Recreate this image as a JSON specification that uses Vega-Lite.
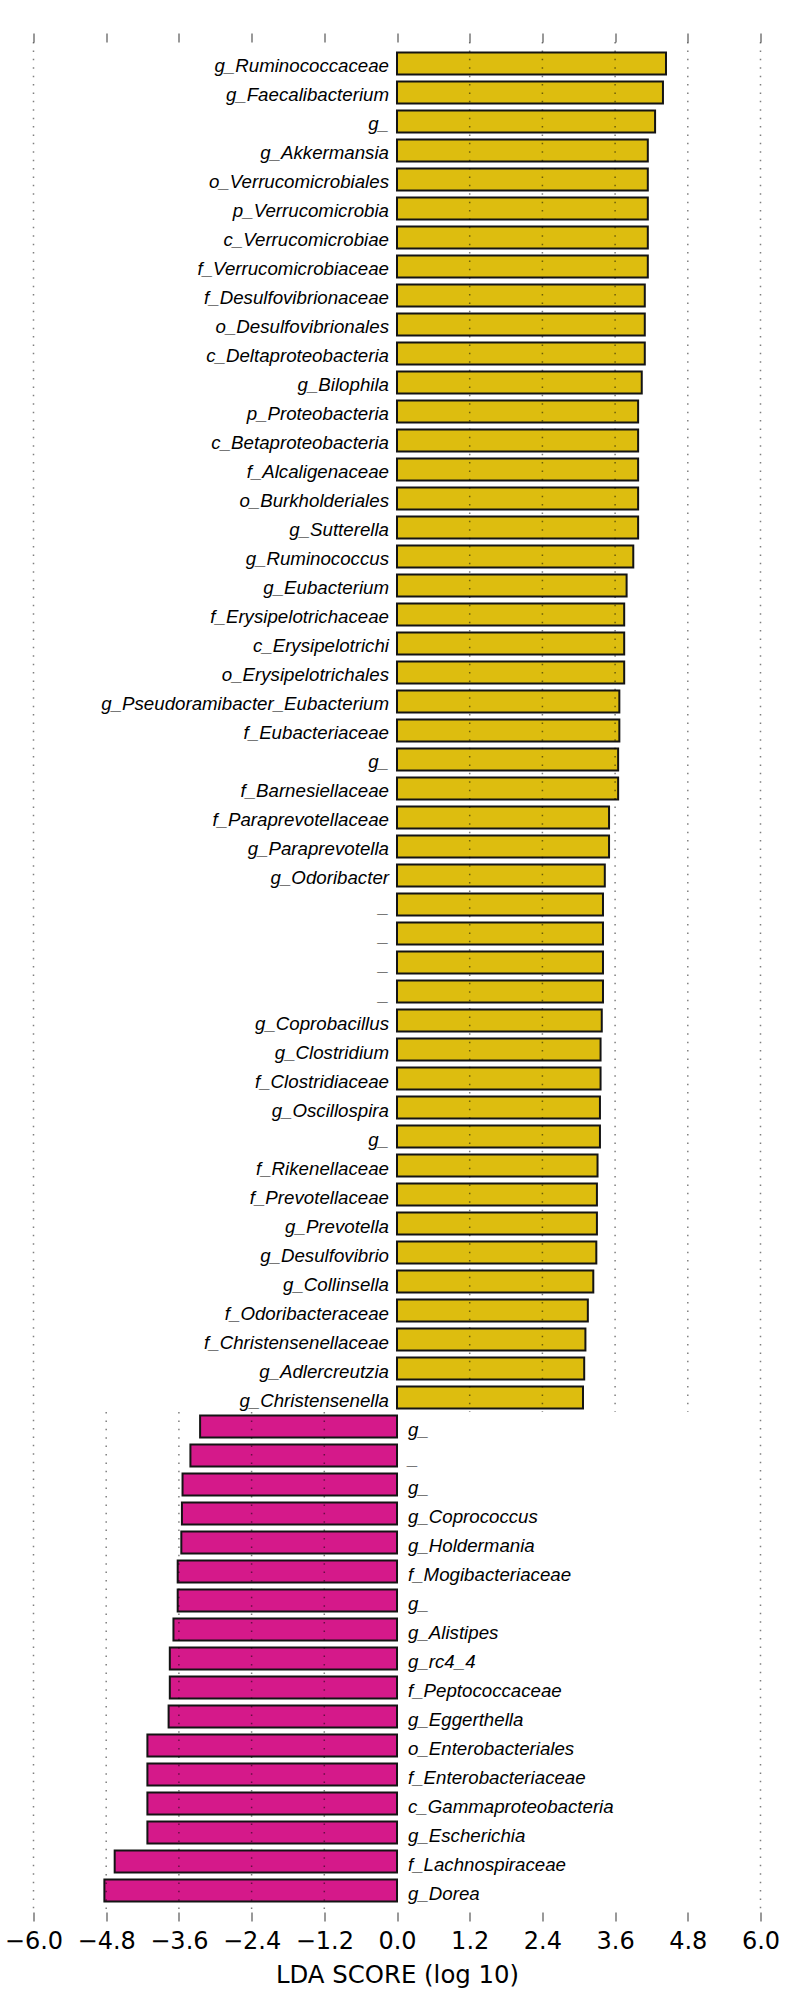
{
  "$schema": "https://vega.github.io/schema/vega-lite/v6.json",
  "width": 727,
  "height": 1888,
  "autosize": {"type": "none"},
  "padding": {"left": 33.5, "top": 33, "right": 33.5, "bottom": 68},
  "background": "white",
  "config": {"view": {"stroke": null}},
  "datasets": {
    "lda": [
      {"id": "01", "name": "g_Ruminococcaceae", "lda": 4.44},
      {"id": "02", "name": "g_Faecalibacterium", "lda": 4.39},
      {"id": "03", "name": "g_", "lda": 4.26},
      {"id": "04", "name": "g_Akkermansia", "lda": 4.14},
      {"id": "05", "name": "o_Verrucomicrobiales", "lda": 4.14},
      {"id": "06", "name": "p_Verrucomicrobia", "lda": 4.14},
      {"id": "07", "name": "c_Verrucomicrobiae", "lda": 4.14},
      {"id": "08", "name": "f_Verrucomicrobiaceae", "lda": 4.14},
      {"id": "09", "name": "f_Desulfovibrionaceae", "lda": 4.09},
      {"id": "10", "name": "o_Desulfovibrionales", "lda": 4.09},
      {"id": "11", "name": "c_Deltaproteobacteria", "lda": 4.09},
      {"id": "12", "name": "g_Bilophila", "lda": 4.04},
      {"id": "13", "name": "p_Proteobacteria", "lda": 3.98},
      {"id": "14", "name": "c_Betaproteobacteria", "lda": 3.98},
      {"id": "15", "name": "f_Alcaligenaceae", "lda": 3.98},
      {"id": "16", "name": "o_Burkholderiales", "lda": 3.98},
      {"id": "17", "name": "g_Sutterella", "lda": 3.98},
      {"id": "18", "name": "g_Ruminococcus", "lda": 3.90},
      {"id": "19", "name": "g_Eubacterium", "lda": 3.79},
      {"id": "20", "name": "f_Erysipelotrichaceae", "lda": 3.75},
      {"id": "21", "name": "c_Erysipelotrichi", "lda": 3.75},
      {"id": "22", "name": "o_Erysipelotrichales", "lda": 3.75},
      {"id": "23", "name": "g_Pseudoramibacter_Eubacterium", "lda": 3.67},
      {"id": "24", "name": "f_Eubacteriaceae", "lda": 3.67},
      {"id": "25", "name": "g_", "lda": 3.65},
      {"id": "26", "name": "f_Barnesiellaceae", "lda": 3.65},
      {"id": "27", "name": "f_Paraprevotellaceae", "lda": 3.50},
      {"id": "28", "name": "g_Paraprevotella", "lda": 3.50},
      {"id": "29", "name": "g_Odoribacter", "lda": 3.43},
      {"id": "30", "name": "_", "lda": 3.40},
      {"id": "31", "name": "_", "lda": 3.40},
      {"id": "32", "name": "_", "lda": 3.40},
      {"id": "33", "name": "_", "lda": 3.40},
      {"id": "34", "name": "g_Coprobacillus", "lda": 3.38},
      {"id": "35", "name": "g_Clostridium", "lda": 3.36},
      {"id": "36", "name": "f_Clostridiaceae", "lda": 3.36},
      {"id": "37", "name": "g_Oscillospira", "lda": 3.35},
      {"id": "38", "name": "g_", "lda": 3.35},
      {"id": "39", "name": "f_Rikenellaceae", "lda": 3.31},
      {"id": "40", "name": "f_Prevotellaceae", "lda": 3.30},
      {"id": "41", "name": "g_Prevotella", "lda": 3.30},
      {"id": "42", "name": "g_Desulfovibrio", "lda": 3.29},
      {"id": "43", "name": "g_Collinsella", "lda": 3.24},
      {"id": "44", "name": "f_Odoribacteraceae", "lda": 3.15},
      {"id": "45", "name": "f_Christensenellaceae", "lda": 3.11},
      {"id": "46", "name": "g_Adlercreutzia", "lda": 3.09},
      {"id": "47", "name": "g_Christensenella", "lda": 3.07},
      {"id": "48", "name": "g_", "lda": -3.25},
      {"id": "49", "name": "_", "lda": -3.41},
      {"id": "50", "name": "g_", "lda": -3.54},
      {"id": "51", "name": "g_Coprococcus", "lda": -3.55},
      {"id": "52", "name": "g_Holdermania", "lda": -3.56},
      {"id": "53", "name": "f_Mogibacteriaceae", "lda": -3.62},
      {"id": "54", "name": "g_", "lda": -3.62},
      {"id": "55", "name": "g_Alistipes", "lda": -3.69},
      {"id": "56", "name": "g_rc4_4", "lda": -3.75},
      {"id": "57", "name": "f_Peptococcaceae", "lda": -3.75},
      {"id": "58", "name": "g_Eggerthella", "lda": -3.77},
      {"id": "59", "name": "o_Enterobacteriales", "lda": -4.12},
      {"id": "60", "name": "f_Enterobacteriaceae", "lda": -4.12},
      {"id": "61", "name": "c_Gammaproteobacteria", "lda": -4.12},
      {"id": "62", "name": "g_Escherichia", "lda": -4.12},
      {"id": "63", "name": "f_Lachnospiraceae", "lda": -4.66},
      {"id": "64", "name": "g_Dorea", "lda": -4.83}
    ]
  },
  "layer": [
    {
      "data": {"name": "lda"},
      "mark": {"type": "bar", "stroke": "#141414", "strokeWidth": 2},
      "encoding": {
        "y": {"field": "id", "type": "ordinal", "scale": {"paddingInner": 0.24, "paddingOuter": 0.67}, "axis": null},
        "x": {
          "field": "lda", "type": "quantitative",
          "scale": {"domain": [-6, 6], "nice": false},
          "axis": {
            "orient": "bottom",
            "values": [-6, -4.8, -3.6, -2.4, -1.2, 0, 1.2, 2.4, 3.6, 4.8, 6],
            "format": ".1f",
            "domain": false, "grid": false,
            "tickSize": -9, "tickColor": "#777", "tickWidth": 1.5,
            "labelPadding": 17.5, "labelFont": "DejaVu Sans", "labelFontSize": 24, "labelColor": "#000",
            "labelFlush": false, "labelOverlap": false,
            "title": "LDA SCORE (log 10)", "titleFont": "DejaVu Sans", "titleFontSize": 24.4,
            "titleFontWeight": "normal", "titleColor": "#000", "titlePadding": 10
          }
        },
        "color": {"condition": {"test": "datum.lda < 0", "value": "#D5198A"}, "value": "#DDBD0F"}
      }
    },
    {
      "data": {"values": [
        {"x": 1.2, "from": "01", "to": "47"},
        {"x": 2.4, "from": "01", "to": "47"},
        {"x": 3.6, "from": "01", "to": "47"},
        {"x": 4.8, "from": "01", "to": "47"}
      ]},
      "mark": {"type": "rule", "color": "#000", "opacity": 0.5, "strokeWidth": 1.5, "strokeDash": [1.5, 6.9]},
      "encoding": {
        "x": {"field": "x", "type": "quantitative", "axis": null},
        "y": {"field": "from", "type": "ordinal", "bandPosition": -0.47, "axis": null},
        "y2": {"field": "to", "bandPosition": 1.16}
      }
    },
    {
      "data": {"values": [
        {"x": -4.8, "from": "48", "to": "64"},
        {"x": -3.6, "from": "48", "to": "64"},
        {"x": -2.4, "from": "48", "to": "64"},
        {"x": -1.2, "from": "48", "to": "64"}
      ]},
      "mark": {"type": "rule", "color": "#000", "opacity": 0.5, "strokeWidth": 1.5, "strokeDash": [1.5, 6.9]},
      "encoding": {
        "x": {"field": "x", "type": "quantitative", "axis": null},
        "y": {"field": "from", "type": "ordinal", "bandPosition": -0.16, "axis": null},
        "y2": {"field": "to", "bandPosition": 1.48}
      }
    },
    {
      "data": {"values": [
        {"x": -6, "from": "01", "to": "64"},
        {"x": 6, "from": "01", "to": "64"}
      ]},
      "mark": {"type": "rule", "color": "#000", "opacity": 0.5, "strokeWidth": 1.5, "strokeDash": [1.5, 6.9]},
      "encoding": {
        "x": {
          "field": "x", "type": "quantitative",
          "axis": {
            "orient": "top",
            "values": [-6, -4.8, -3.6, -2.4, -1.2, 0, 1.2, 2.4, 3.6, 4.8, 6],
            "labels": false, "domain": false, "grid": false,
            "tickSize": -9, "tickColor": "#777", "tickWidth": 1.5, "title": null
          }
        },
        "y": {"field": "from", "type": "ordinal", "bandPosition": -0.47, "axis": null},
        "y2": {"field": "to", "bandPosition": 1.48}
      }
    },
    {
      "data": {"name": "lda"},
      "transform": [{"filter": "datum.lda > 0"}],
      "mark": {"type": "text", "align": "right", "baseline": "alphabetic", "dx": -8, "dy": 9,
               "font": "Liberation Sans", "fontStyle": "italic", "fontSize": 18.7, "color": "#000"},
      "encoding": {
        "y": {"field": "id", "type": "ordinal", "axis": null},
        "x": {"datum": 0, "type": "quantitative", "axis": null},
        "text": {"field": "name"}
      }
    },
    {
      "data": {"name": "lda"},
      "transform": [{"filter": "datum.lda < 0"}],
      "mark": {"type": "text", "align": "left", "baseline": "alphabetic", "dx": 11, "dy": 9,
               "font": "Liberation Sans", "fontStyle": "italic", "fontSize": 18.7, "color": "#000"},
      "encoding": {
        "y": {"field": "id", "type": "ordinal", "axis": null},
        "x": {"datum": 0, "type": "quantitative", "axis": null},
        "text": {"field": "name"}
      }
    }
  ],
  "resolve": {"axis": {"x": "independent"}}
}
